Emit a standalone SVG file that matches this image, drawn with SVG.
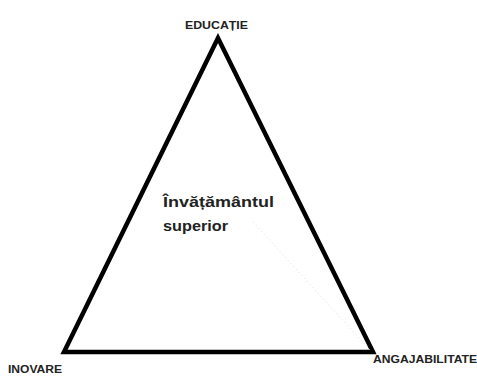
<svg xmlns="http://www.w3.org/2000/svg" width="477" height="378" viewBox="0 0 477 378">
<style>
.lbl{font-family:"Liberation Sans",Arial,sans-serif;font-weight:bold;fill:#222;}
.s{font-size:10.5px;}
.m{font-size:15px;}
</style>
<rect width="477" height="378" fill="#fff"/>
<g id="connectors">
<polygon points="218,38 64,352 373,352" fill="none" stroke="#000" stroke-width="4.5" stroke-linejoin="miter"/>
<line x1="253" y1="222" x2="370" y2="350" stroke="#ddd" stroke-width="1" stroke-dasharray="1,3"/>
</g>
<g id="educatie"><text class="lbl s" x="185" y="29" textLength="63" lengthAdjust="spacingAndGlyphs">EDUCAȚIE</text></g>
<g id="inovare"><text class="lbl s" x="8" y="373" textLength="54" lengthAdjust="spacingAndGlyphs">INOVARE</text></g>
<g id="angajabilitate"><text class="lbl s" x="373" y="363" textLength="104" lengthAdjust="spacingAndGlyphs">ANGAJABILITATE</text></g>
<g id="invatamant">
<text class="lbl m" x="163" y="207" textLength="111" lengthAdjust="spacingAndGlyphs">Învățământul</text>
<text class="lbl m" x="163" y="231" textLength="65" lengthAdjust="spacingAndGlyphs">superior</text>
</g>
</svg>
